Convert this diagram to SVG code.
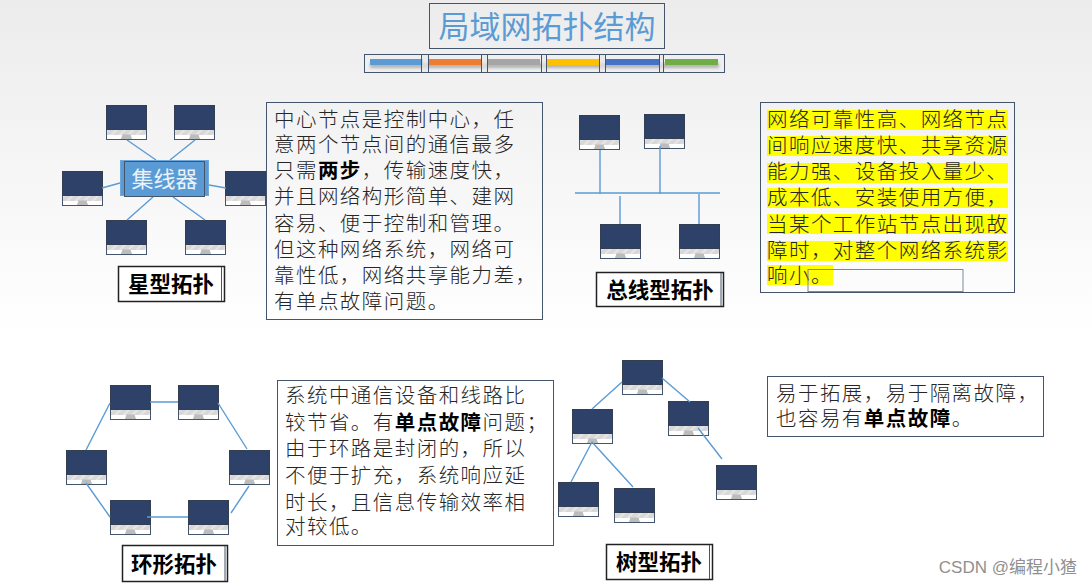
<svg xmlns="http://www.w3.org/2000/svg" width="1092" height="586" viewBox="0 0 1092 586">
<defs>
<linearGradient id="bg" x1="0" y1="0" x2="0" y2="1"><stop offset="0" stop-color="#ececec"/><stop offset="0.57" stop-color="#ffffff"/><stop offset="1" stop-color="#ffffff"/></linearGradient>
<filter id="sh" x="-5%" y="-100%" width="110%" height="300%"><feGaussianBlur stdDeviation="1.5"/></filter>
<pattern id="hatch" width="6" height="6" patternUnits="userSpaceOnUse" patternTransform="rotate(-45)"><rect width="6" height="6" fill="#d8d8d8"/><rect width="6" height="2" fill="#e6e6e6"/></pattern>
<g id="pc">
<rect x="0.500" y="0.500" width="40" height="34" fill="#ffffff" stroke="#44546a" stroke-width="1"/>
<rect x="1" y="25" width="39" height="5" fill="url(#hatch)"/>
<rect x="0.500" y="0.500" width="40" height="24" fill="#2e4168" stroke="#333f50" stroke-width="1"/>
<path d="M15 34 L16.500 29.500 H24.500 L26 34Z" fill="#bcbcbc"/>
</g>
</defs>
<style>
text{font-family:"Liberation Sans","Noto Sans CJK SC",sans-serif}
.box{fill:none;stroke:#44546a;stroke-width:1}
.c{stroke:#5b9bd5;stroke-width:1.4;fill:none}
.t{font-size:20.5px;letter-spacing:1.45px;fill:#262626;font-weight:300}
.l{font-size:21.500px;font-weight:700;fill:#000;text-anchor:middle}
.f{fill:#fff;stroke:#222;stroke-width:1.5}
.fi{fill:none;stroke:#44546a;stroke-width:1}
.hl{fill:#ffff00}
.b{font-weight:700;fill:#000}
</style>
<rect id="background" width="1092" height="586" fill="url(#bg)"/>
<g id="title">
<rect class="box" x="429.500" y="3.500" width="235" height="45"/>
<text x="547" y="38" font-size="31" fill="#5b9bd5" text-anchor="middle">局域网拓扑结构</text>
</g>
<g id="color-bar">
<rect x="370" y="63" width="349" height="5" fill="#777" opacity="0.5" filter="url(#sh)"/>
<rect class="box" x="364.500" y="54.500" width="360" height="18"/>
<rect x="370" y="59" width="53" height="6" fill="#5b9bd5"/>
<rect x="428" y="59" width="53" height="6" fill="#ed7d31"/>
<rect x="487" y="59" width="53" height="6" fill="#a5a5a5"/>
<rect x="547" y="59" width="53" height="6" fill="#ffc000"/>
<rect x="606" y="59" width="53" height="6" fill="#4472c4"/>
<rect x="665" y="59" width="53" height="6" fill="#70ad47"/>
<g fill="#e8e8e8" fill-opacity="0.7" stroke="#44546a"><rect x="421.500" y="54.500" width="7" height="18"/><rect x="481.500" y="54.500" width="6" height="18"/><rect x="541.500" y="54.500" width="5" height="18"/><rect x="599.500" y="54.500" width="6" height="18"/><rect x="659.500" y="54.500" width="4" height="18"/></g>
</g>
<g id="star">
<use href="#pc" x="106" y="105"/><use href="#pc" x="174" y="105"/><use href="#pc" x="62" y="171"/><use href="#pc" x="225" y="171"/><use href="#pc" x="106" y="220"/><use href="#pc" x="185" y="220"/>
</g>
<g id="bus">
<use href="#pc" x="579" y="115"/><use href="#pc" x="644" y="114"/><use href="#pc" x="600" y="224"/><use href="#pc" x="679" y="224"/>
</g>
<g id="ring">
<use href="#pc" x="110" y="385"/><use href="#pc" x="178" y="385"/><use href="#pc" x="66" y="450"/><use href="#pc" x="229" y="450"/><use href="#pc" x="110" y="500"/><use href="#pc" x="188" y="500"/>
</g>
<g id="tree">
<use href="#pc" x="622" y="360"/><use href="#pc" x="572" y="409"/><use href="#pc" x="668" y="401"/><use href="#pc" x="558" y="482"/><use href="#pc" x="614" y="488"/><use href="#pc" x="716" y="465"/>
</g>
<g id="connectors">
<path class="c" d="M127 140L156 160M195 140L170 160M102 188L120 183M209 185L226 188M127 220L153 197M205 220L173 197"/>
<path class="c" d="M575 193H720M600 150V194M660 146V194M620 196V224M699 194V224"/>
<path class="c" d="M150 402H178M218 403L247 449M110 403L86 450M86 483L110 517M147 517H188M249 486L231 513"/>
<path class="c" d="M622 382L592 409M662 378L690 402M592 442L571 482M592 442L633 487M698 428L722 459"/>
</g>
<g id="hub">
<rect x="120.500" y="160.500" width="88" height="35" fill="#5b9bd5" stroke="#6fa8dc"/>
<rect x="124.500" y="161.500" width="80" height="35" fill="#5b9bd5" stroke="#44546a"/>
<text x="164.500" y="187" font-size="22" fill="#eaf2fa" text-anchor="middle">集线器</text>
</g>
<g id="star-label">
<rect class="f" x="118.500" y="266.500" width="106" height="35"/><path class="fi" d="M221.500 267V301"/>
<text class="l" x="171" y="292">星型拓扑</text>
</g>
<g id="star-text">
<rect class="box" x="266.500" y="102.500" width="276" height="217"/>
<text class="t"><tspan x="274" y="127">中心节点是控制中心，任</tspan><tspan x="274" y="152">意两个节点间的通信最多</tspan><tspan x="274" y="178">只需<tspan class="b">两步</tspan>，传输速度快，</tspan><tspan x="274" y="204">并且网络构形简单、建网</tspan><tspan x="274" y="231">容易、便于控制和管理。</tspan><tspan x="274" y="257">但这种网络系统，网络可</tspan><tspan x="274" y="283">靠性低，网络共享能力差，</tspan><tspan x="274" y="309">有单点故障问题。</tspan></text>
</g>
<g id="bus-label">
<rect class="f" x="596.500" y="272.500" width="127" height="34"/><path class="fi" d="M721 273V306"/>
<text class="l" x="660" y="298">总线型拓扑</text>
</g>
<g id="bus-text">
<rect class="box" x="760.500" y="102.500" width="254" height="190"/>
<g class="hl"><rect x="767" y="110" width="241" height="20"/><rect x="767" y="136" width="241" height="20"/><rect x="767" y="163" width="241" height="20"/><rect x="767" y="188" width="241" height="20"/><rect x="767" y="214" width="241" height="20"/><rect x="767" y="241" width="241" height="20"/><rect x="767" y="265" width="66" height="20"/></g>
<text class="t"><tspan x="767" y="127">网络可靠性高、网络节点</tspan><tspan x="767" y="153">间响应速度快、共享资源</tspan><tspan x="767" y="179">能力强、设备投入量少、</tspan><tspan x="767" y="205">成本低、安装使用方便，</tspan><tspan x="767" y="232">当某个工作站节点出现故</tspan><tspan x="767" y="258">障时，对整个网络系统影</tspan><tspan x="767" y="283">响小。</tspan></text>
<rect class="box" x="808" y="269.500" width="155" height="22" style="stroke:#7f8799"/>
</g>
<g id="ring-label">
<rect class="f" x="122.500" y="545.500" width="105" height="36"/><path class="fi" d="M225 546V581"/>
<text class="l" x="174" y="572">环形拓扑</text>
</g>
<g id="ring-text">
<rect class="box" x="277.500" y="380.500" width="276" height="165"/>
<text class="t"><tspan x="285" y="403">系统中通信设备和线路比</tspan><tspan x="285" y="430">较节省。有<tspan class="b">单点故障</tspan>问题；</tspan><tspan x="285" y="456">由于环路是封闭的，所以</tspan><tspan x="285" y="483">不便于扩充，系统响应延</tspan><tspan x="285" y="510">时长，且信息传输效率相</tspan><tspan x="285" y="534">对较低。</tspan></text>
</g>
<g id="tree-label">
<rect class="f" x="606.500" y="544.500" width="106" height="35"/><path class="fi" d="M709.500 545V579"/>
<text class="l" x="659" y="570">树型拓扑</text>
</g>
<g id="tree-text">
<rect class="box" x="767.500" y="376.500" width="276" height="60"/>
<text class="t"><tspan x="776" y="401">易于拓展，易于隔离故障，</tspan><tspan x="776" y="426">也容易有<tspan class="b">单点故障</tspan>。</tspan></text>
</g>
<text id="watermark" x="1077" y="573" font-size="17" fill="#8f8f8f" text-anchor="end">CSDN @编程小猹</text>
</svg>
